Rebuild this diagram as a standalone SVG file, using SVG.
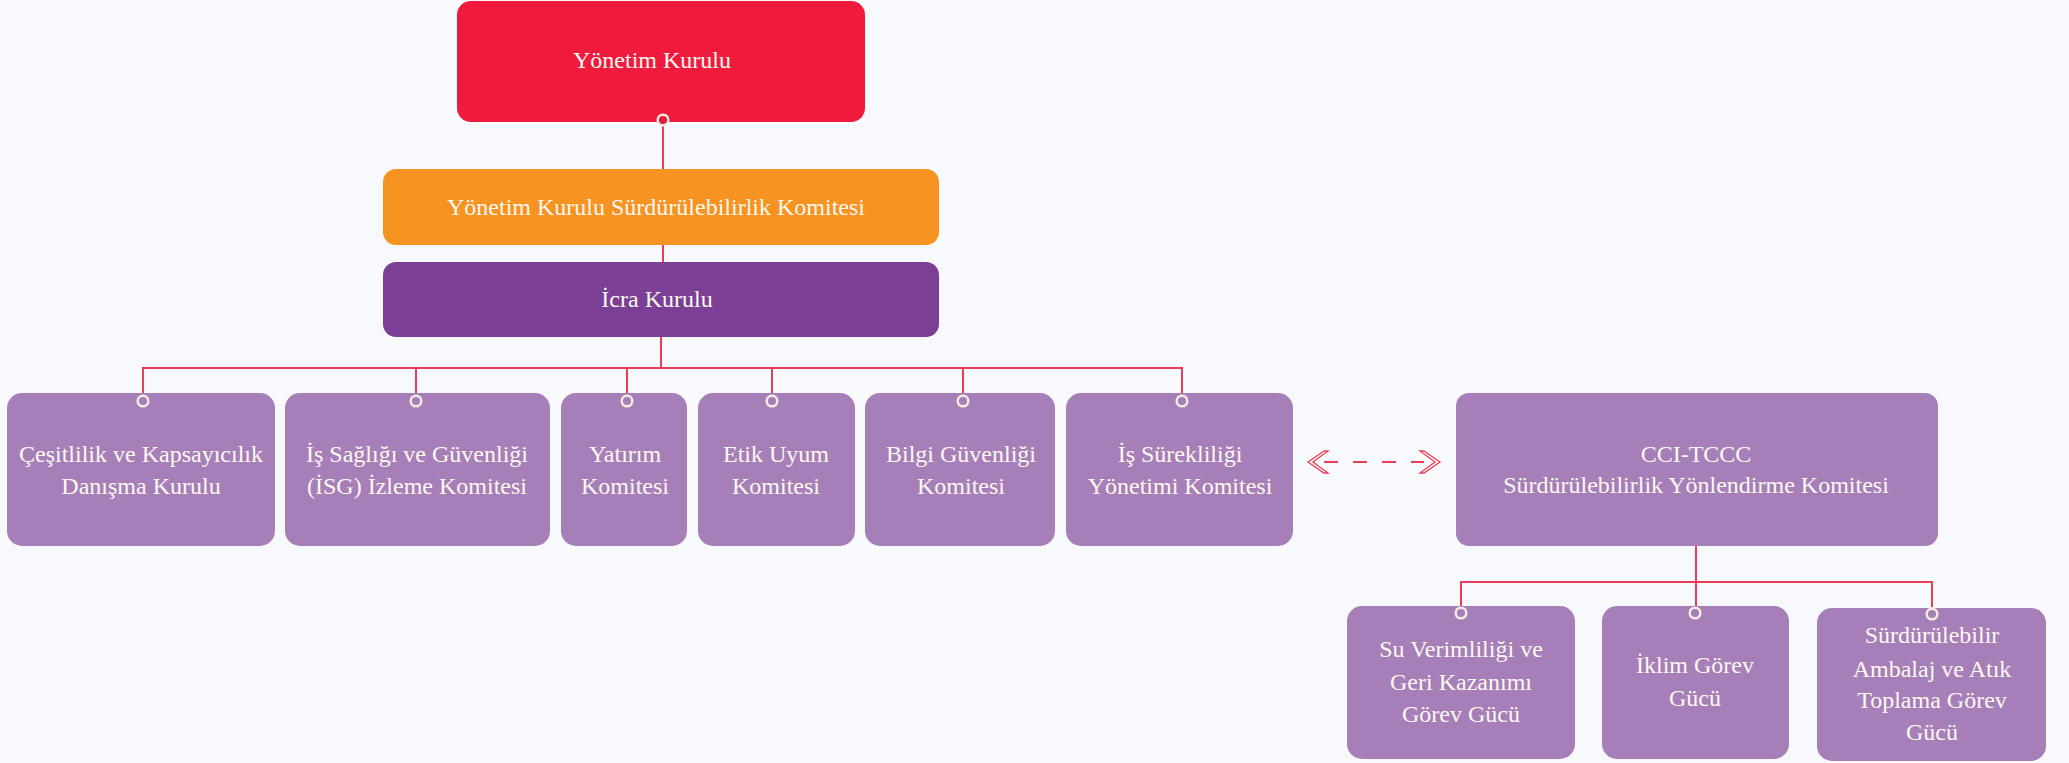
<svg xmlns="http://www.w3.org/2000/svg" width="2069" height="763" viewBox="0 0 2069 763">
  <defs>
    <style>
      .bg { fill: #f8f9fd; }
      .node-red { fill: #ef1a3c; }
      .node-orange { fill: #f69321; }
      .node-dark { fill: #7b4096; }
      .node-light { fill: #a67fb9; }
      .label { font-family: "Liberation Serif", "DejaVu Serif", serif; font-size: 24px; fill: #fdf8f0; text-anchor: middle; }
      .wire { stroke: #ea3d58; stroke-width: 2; fill: none; }
      .dash { stroke: #ea3d58; stroke-width: 2; fill: none; stroke-dasharray: 14 15; }
      .ring { fill: none; stroke: #f1ebe2; stroke-width: 2.5; }
      .ring-red { fill: #e31d3b; stroke: #f1ebe2; stroke-width: 2.5; }
      .chev { fill: #ffffff; stroke: #ea3d58; stroke-width: 1.3; stroke-linejoin: miter; }
    </style>
  </defs>

  <rect class="bg" x="0" y="0" width="2069" height="763"/>

  <!-- connectors -->
  <g id="connectors">
    <line class="wire" x1="663" y1="124" x2="663" y2="169"/>
    <line class="wire" x1="663" y1="245" x2="663" y2="262"/>
    <polyline class="wire" points="661,337 661,368"/>
    <polyline class="wire" points="143,395 143,368 1182,368 1182,395"/>
    <line class="wire" x1="416" y1="368" x2="416" y2="395"/>
    <line class="wire" x1="627" y1="368" x2="627" y2="395"/>
    <line class="wire" x1="772" y1="368" x2="772" y2="395"/>
    <line class="wire" x1="963" y1="368" x2="963" y2="395"/>
    <line class="wire" x1="1696" y1="546" x2="1696" y2="607"/>
    <polyline class="wire" points="1461,607 1461,582 1932,582 1932,607"/>
    <!-- two-way dashed link -->
    <line class="dash" x1="1324" y1="462" x2="1424" y2="462"/>
    <polygon class="chev" points="1324,451 1308,462 1324,473 1328,473 1313,462 1328,451"/>
    <polygon class="chev" points="1424,451 1440,462 1424,473 1420,473 1435,462 1420,451"/>
  </g>

  <g id="yonetim-kurulu">
    <rect class="node-red" x="457" y="1" width="408" height="121" rx="14"/>
    <text class="label" x="652" y="68">Yönetim Kurulu</text>
    <circle class="ring-red" cx="663" cy="120" r="5.3"/>
  </g>

  <g id="surdurulebilirlik-komitesi">
    <rect class="node-orange" x="383" y="169" width="556" height="76" rx="13"/>
    <text class="label" x="656" y="215">Yönetim Kurulu Sürdürülebilirlik Komitesi</text>
  </g>

  <g id="icra-kurulu">
    <rect class="node-dark" x="383" y="262" width="556" height="75" rx="13"/>
    <text class="label" x="657" y="307">İcra Kurulu</text>
  </g>

  <g id="cesitlilik">
    <rect class="node-light" x="7" y="393" width="268" height="153" rx="15"/>
    <circle class="ring" cx="143" cy="401" r="5.3"/>
    <text class="label" x="141" y="462">Çeşitlilik ve Kapsayıcılık</text>
    <text class="label" x="141" y="494">Danışma Kurulu</text>
  </g>

  <g id="isg">
    <rect class="node-light" x="285" y="393" width="265" height="153" rx="15"/>
    <circle class="ring" cx="416" cy="401" r="5.3"/>
    <text class="label" x="417" y="462">İş Sağlığı ve Güvenliği</text>
    <text class="label" x="417" y="494">(İSG) İzleme Komitesi</text>
  </g>

  <g id="yatirim">
    <rect class="node-light" x="561" y="393" width="126" height="153" rx="15"/>
    <circle class="ring" cx="627" cy="401" r="5.3"/>
    <text class="label" x="625" y="462">Yatırım</text>
    <text class="label" x="625" y="494">Komitesi</text>
  </g>

  <g id="etik-uyum">
    <rect class="node-light" x="698" y="393" width="157" height="153" rx="15"/>
    <circle class="ring" cx="772" cy="401" r="5.3"/>
    <text class="label" x="776" y="462">Etik Uyum</text>
    <text class="label" x="776" y="494">Komitesi</text>
  </g>

  <g id="bilgi-guvenligi">
    <rect class="node-light" x="865" y="393" width="190" height="153" rx="15"/>
    <circle class="ring" cx="963" cy="401" r="5.3"/>
    <text class="label" x="961" y="462">Bilgi Güvenliği</text>
    <text class="label" x="961" y="494">Komitesi</text>
  </g>

  <g id="is-surekliligi">
    <rect class="node-light" x="1066" y="393" width="227" height="153" rx="15"/>
    <circle class="ring" cx="1182" cy="401" r="5.3"/>
    <text class="label" x="1180" y="462">İş Sürekliliği</text>
    <text class="label" x="1180" y="494">Yönetimi Komitesi</text>
  </g>

  <g id="cci-tccc">
    <rect class="node-light" x="1456" y="393" width="482" height="153" rx="13"/>
    <text class="label" x="1696" y="462">CCI-TCCC</text>
    <text class="label" x="1696" y="493">Sürdürülebilirlik Yönlendirme Komitesi</text>
  </g>

  <g id="su-verimliligi">
    <rect class="node-light" x="1347" y="606" width="228" height="153" rx="15"/>
    <circle class="ring" cx="1461" cy="613" r="5.3"/>
    <text class="label" x="1461" y="657">Su Verimliliği ve</text>
    <text class="label" x="1461" y="690">Geri Kazanımı</text>
    <text class="label" x="1461" y="722">Görev Gücü</text>
  </g>

  <g id="iklim">
    <rect class="node-light" x="1602" y="606" width="187" height="153" rx="15"/>
    <circle class="ring" cx="1695" cy="613" r="5.3"/>
    <text class="label" x="1695" y="673">İklim Görev</text>
    <text class="label" x="1695" y="706">Gücü</text>
  </g>

  <g id="ambalaj">
    <rect class="node-light" x="1817" y="608" width="229" height="153" rx="15"/>
    <circle class="ring" cx="1932" cy="614" r="5.3"/>
    <text class="label" x="1932" y="643">Sürdürülebilir</text>
    <text class="label" x="1932" y="677">Ambalaj ve Atık</text>
    <text class="label" x="1932" y="708">Toplama Görev</text>
    <text class="label" x="1932" y="740">Gücü</text>
  </g>
</svg>
